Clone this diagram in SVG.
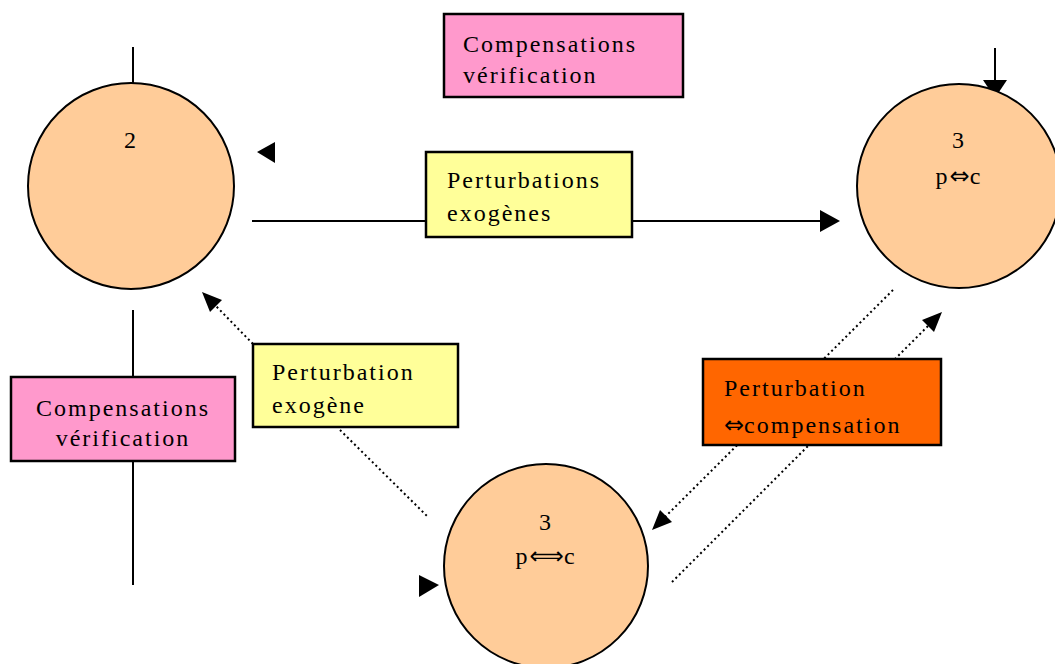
<svg xmlns="http://www.w3.org/2000/svg" width="1055" height="664" viewBox="0 0 1055 664">
<style>
.c{fill:#FFCC99;stroke:#000;stroke-width:2}
.b{stroke:#000;stroke-width:2.5}
.t{font-family:"Liberation Serif",serif;font-size:24px;letter-spacing:2px;fill:#000}
.a{font-family:"DejaVu Sans",sans-serif;letter-spacing:0}
.l{stroke:#000;stroke-width:2;fill:none}
.d{stroke:#000;stroke-width:2;fill:none;stroke-dasharray:2 3}
</style>
<g id="connectors">
<line class="l" x1="133" y1="47" x2="133" y2="83"/>
<line class="l" x1="133" y1="310" x2="133" y2="585"/>
<line class="l" x1="252" y1="221" x2="822" y2="221"/>
<polygon points="840,221 820,210 820,232" fill="#000"/>
<polygon points="257,152 275,142 275,163" fill="#000"/>
<line class="l" x1="995" y1="48" x2="995" y2="82"/>
<polygon points="995,98 983,80 1007,80" fill="#000"/>
<line class="d" x1="253" y1="344" x2="214" y2="304"/>
<polygon points="202,292 222,300 210,312" fill="#000"/>
<line class="d" x1="340" y1="430" x2="428" y2="517"/>
<line class="d" x1="893" y1="290" x2="664" y2="518"/>
<polygon points="652,530 660,510 672,522" fill="#000"/>
<line class="d" x1="672" y1="582" x2="930" y2="324"/>
<polygon points="942,312 934,332 922,320" fill="#000"/>
<polygon points="439,585 419,575 419,597" fill="#000"/>
</g>
<g id="node-compensations-top">
<rect x="444" y="14" width="239" height="83" fill="#FF99CC" class="b"/>
<text class="t" x="463" y="52">Compensations</text>
<text class="t" x="463" y="83">vérification</text>
</g>
<g id="node-circle-2">
<circle class="c" cx="131" cy="186" r="103"/>
<text class="t" x="131" y="148" text-anchor="middle">2</text>
</g>
<g id="node-circle-3-right">
<circle class="c" cx="959" cy="186" r="102"/>
<text class="t" x="959" y="148" text-anchor="middle">3</text>
<text class="t" x="959" y="184" text-anchor="middle">p<tspan class="a">⇔</tspan>c</text>
</g>
<g id="node-perturbations-exogenes">
<rect x="426" y="152" width="206" height="85" fill="#FFFF99" class="b"/>
<text class="t" x="447" y="188">Perturbations</text>
<text class="t" x="447" y="221">exogènes</text>
</g>
<g id="node-compensations-left">
<rect x="11" y="377" width="224" height="84" fill="#FF99CC" class="b"/>
<text class="t" x="123" y="416" text-anchor="middle">Compensations</text>
<text class="t" x="123" y="446" text-anchor="middle">vérification</text>
</g>
<g id="node-perturbation-exogene">
<rect x="253" y="344" width="205" height="83" fill="#FFFF99" class="b"/>
<text class="t" x="272" y="380">Perturbation</text>
<text class="t" x="272" y="413">exogène</text>
</g>
<g id="node-perturbation-compensation">
<rect x="703" y="359" width="238" height="86" fill="#FF6600" class="b"/>
<text class="t" x="724" y="396">Perturbation</text>
<text class="t" x="724" y="433"><tspan class="a">⇔</tspan>compensation</text>
</g>
<g id="node-circle-3-bottom">
<circle class="c" cx="546" cy="566" r="102"/>
<text class="t" x="546" y="530" text-anchor="middle">3</text>
<text class="t" x="546" y="564" text-anchor="middle">p<tspan class="a">⟺</tspan>c</text>
</g>
</svg>
